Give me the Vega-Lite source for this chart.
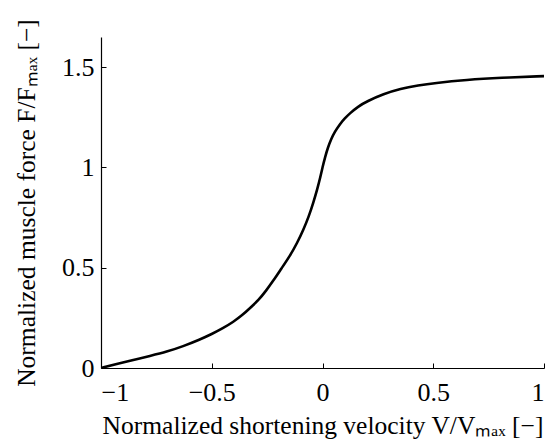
{
  "$schema": "https://vega.github.io/schema/vega-lite/v6.json",
  "autosize": "none",
  "padding": {"left": 101, "top": 37, "right": 4, "bottom": 76},
  "width": 443,
  "height": 331,
  "background": "white",
  "config": {
    "view": {"stroke": null},
    "font": "Liberation Serif",
    "axis": {
      "domainColor": "black",
      "domainWidth": 1.2,
      "tickColor": "black",
      "tickWidth": 1,
      "tickSize": -5,
      "grid": false,
      "labelFont": "Liberation Serif",
      "labelFontSize": 26,
      "labelColor": "black",
      "titleFont": "Liberation Serif",
      "titleFontSize": 25.5,
      "titleFontWeight": "normal",
      "titleColor": "black",
      "format": "~g"
    }
  },
  "data": {
    "values": [
      {"v": -1.0, "f": 0.0},
      {"v": -0.93, "f": 0.02},
      {"v": -0.854, "f": 0.04},
      {"v": -0.78, "f": 0.06},
      {"v": -0.703, "f": 0.081},
      {"v": -0.63, "f": 0.108},
      {"v": -0.553, "f": 0.142},
      {"v": -0.5, "f": 0.169},
      {"v": -0.45, "f": 0.198},
      {"v": -0.402, "f": 0.23},
      {"v": -0.36, "f": 0.265},
      {"v": -0.327, "f": 0.299},
      {"v": -0.289, "f": 0.338},
      {"v": -0.255, "f": 0.385},
      {"v": -0.221, "f": 0.437},
      {"v": -0.185, "f": 0.497},
      {"v": -0.146, "f": 0.561},
      {"v": -0.115, "f": 0.622},
      {"v": -0.086, "f": 0.69},
      {"v": -0.062, "f": 0.755},
      {"v": -0.041, "f": 0.826},
      {"v": -0.024, "f": 0.89},
      {"v": -0.01, "f": 0.95},
      {"v": 0.0, "f": 1.0},
      {"v": 0.012, "f": 1.052},
      {"v": 0.024, "f": 1.098},
      {"v": 0.04, "f": 1.143},
      {"v": 0.055, "f": 1.177},
      {"v": 0.08, "f": 1.218},
      {"v": 0.1, "f": 1.244},
      {"v": 0.125, "f": 1.271},
      {"v": 0.16, "f": 1.303},
      {"v": 0.2, "f": 1.329},
      {"v": 0.276, "f": 1.366},
      {"v": 0.351, "f": 1.392},
      {"v": 0.434, "f": 1.409},
      {"v": 0.502, "f": 1.42},
      {"v": 0.652, "f": 1.437},
      {"v": 0.803, "f": 1.447},
      {"v": 1.0, "f": 1.455}
    ]
  },
  "mark": {"type": "line", "color": "black", "strokeWidth": 2.6, "interpolate": "basis", "clip": true},
  "encoding": {
    "x": {
      "field": "v",
      "type": "quantitative",
      "scale": {"domain": [-1, 1], "nice": false, "zero": false},
      "axis": {"values": [-1, -0.5, 0, 0.5, 1], "labelPadding": 16, "title": "Normalized shortening velocity V/Vₘₐₓ [−]", "titlePadding": 8}
    },
    "y": {
      "field": "f",
      "type": "quantitative",
      "scale": {"domain": [0, 1.65], "nice": false},
      "axis": {"values": [0, 0.5, 1, 1.5], "labelPadding": 12, "title": "Normalized muscle force F/Fₘₐₓ [−]", "titlePadding": 22}
    }
  }
}
